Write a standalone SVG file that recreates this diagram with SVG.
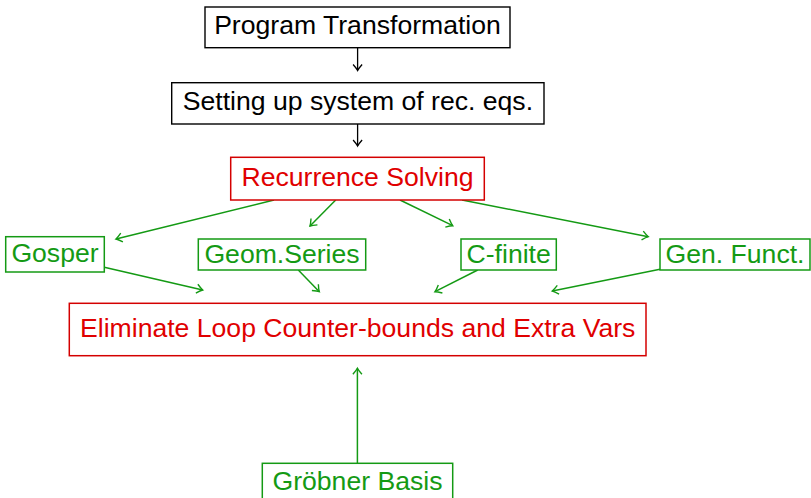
<svg xmlns="http://www.w3.org/2000/svg" width="811" height="498" viewBox="0 0 811 498">
<style>
text{font-family:"Liberation Sans",Arial,sans-serif;font-size:26.6px;text-anchor:middle}
.k rect{fill:#fff;stroke:#000;stroke-width:1.4}
.k text{fill:#000}
.r rect{fill:#fff;stroke:#d40000;stroke-width:1.5}
.r text{fill:#e00000}
.g rect{fill:#fff;stroke:#149a14;stroke-width:1.5}
.g text{fill:#149a14}
.ek{stroke:#000;stroke-width:1.3;fill:none;marker-end:url(#ak)}
.eg{stroke:#149a14;stroke-width:1.5;fill:none;marker-end:url(#ag)}
</style>
<defs>
<marker id="ak" markerUnits="userSpaceOnUse" viewBox="-8 -6 10 12" refX="0" refY="0" markerWidth="10" markerHeight="12" orient="auto" overflow="visible">
<path d="M-6,-4.5 Q-2,-1 0,0 Q-2,1 -6,4.5" fill="none" stroke="#000" stroke-width="1.3"/>
</marker>
<marker id="ag" markerUnits="userSpaceOnUse" viewBox="-8 -6 10 12" refX="0" refY="0" markerWidth="10" markerHeight="12" orient="auto" overflow="visible">
<path d="M-6,-4.5 Q-2,-1 0,0 Q-2,1 -6,4.5" fill="none" stroke="#149a14" stroke-width="1.4"/>
</marker>
</defs>
<g id="connectors">
<line class="ek" x1="357.6" y1="47.7" x2="357.6" y2="70.5"/>
<line class="ek" x1="357.6" y1="124" x2="357.6" y2="146"/>
<line class="eg" x1="274" y1="200" x2="116" y2="239"/>
<line class="eg" x1="335.7" y1="200" x2="310" y2="226"/>
<line class="eg" x1="400" y1="200" x2="452.7" y2="225.7"/>
<line class="eg" x1="462" y1="200" x2="648.3" y2="236.7"/>
<line class="eg" x1="104.3" y1="267.3" x2="202.7" y2="290"/>
<line class="eg" x1="298.3" y1="270" x2="319.3" y2="291.7"/>
<line class="eg" x1="477.7" y1="270" x2="435" y2="291.7"/>
<line class="eg" x1="660" y1="269.3" x2="552.3" y2="291"/>
<line class="eg" x1="357.4" y1="463.3" x2="357.4" y2="368.3"/>
</g>
<g id="program-transformation" class="k">
<rect x="205" y="7" width="305" height="40.7"/>
<text x="357.5" y="33.5">Program Transformation</text>
</g>
<g id="setting-up" class="k">
<rect x="171.7" y="82.7" width="372.3" height="41.3"/>
<text x="357.9" y="110">Setting up system of rec. eqs.</text>
</g>
<g id="recurrence-solving" class="r">
<rect x="230.7" y="157.3" width="253.6" height="42.7"/>
<text x="357.5" y="185.7">Recurrence Solving</text>
</g>
<g id="gosper" class="g">
<rect x="5.7" y="236.7" width="98.6" height="35.3"/>
<text x="55" y="261.7">Gosper</text>
</g>
<g id="geom-series" class="g">
<rect x="198.3" y="239" width="167.4" height="31"/>
<text x="282" y="263.3">Geom.Series</text>
</g>
<g id="c-finite" class="g">
<rect x="461" y="239" width="95.3" height="31"/>
<text x="508.7" y="263.3">C-finite</text>
</g>
<g id="gen-funct" class="g">
<rect x="660" y="239" width="150" height="31"/>
<text x="735" y="263.3">Gen. Funct.</text>
</g>
<g id="eliminate" class="r">
<rect x="69.3" y="303.3" width="576.7" height="52.4"/>
<text x="357.7" y="336.7">Eliminate Loop Counter-bounds and Extra Vars</text>
</g>
<g id="groebner-basis" class="g">
<rect x="262.3" y="463.3" width="190.4" height="40"/>
<text x="357.5" y="490.3">Gröbner Basis</text>
</g>
</svg>
